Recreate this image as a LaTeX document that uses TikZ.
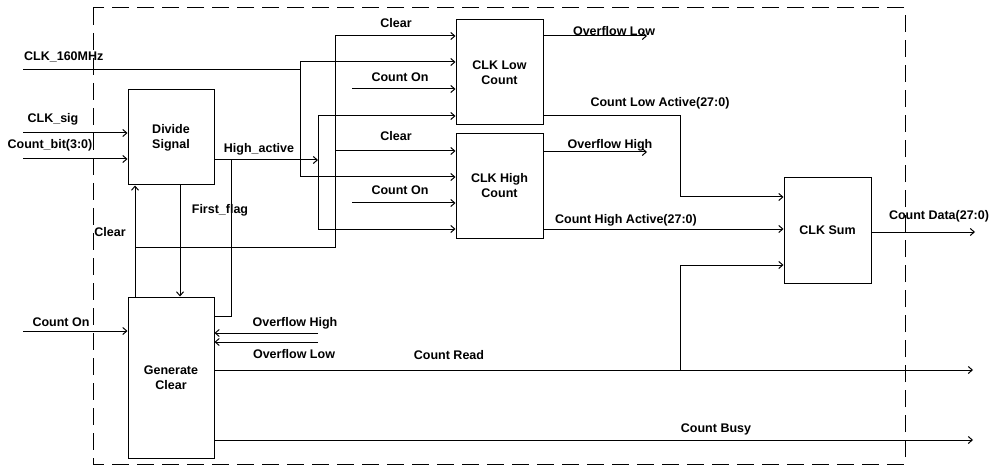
\documentclass[tikz,border=0pt]{standalone}
\usepackage{fontspec}
\setmainfont{Liberation Sans}
\usetikzlibrary{arrows.meta}
\begin{document}
\begin{tikzpicture}[x=1pt,y=-1pt,
  wire/.style={line width=1pt},
  arr/.style={wire,-{Straight Barb[length=4pt,width=7pt]}},
  blk/.style={draw,line width=1pt,rectangle,inner sep=0pt,align=center,font=\fontsize{12.5}{15}\selectfont\bfseries},
  lbl/.style={inner sep=0pt,font=\fontsize{12.5}{15}\selectfont\bfseries},
  frame/.style={line width=1pt,dash pattern=on 17pt off 8pt}]
\useasboundingbox (0,0) rectangle (994,468);
% frame
\draw[frame] (93,8) rectangle (905,464);
% blocks
\node[blk,minimum width=86pt,minimum height=95pt] (div) at (171,137.5) {Divide\\Signal};
\node[blk,minimum width=86pt,minimum height=161pt] (gen) at (171,377.5) {Generate\\Clear};
\node[blk,minimum width=87pt,minimum height=105pt] (low) at (499.5,72.5) {CLK Low\\Count};
\node[blk,minimum width=87pt,minimum height=104pt] (high) at (499.5,186) {CLK High\\Count};
\node[blk,minimum width=87pt,minimum height=105pt] (sum) at (827.5,230.5) {CLK Sum};
% coordinates
\coordinate (clkin) at (23,70);
\coordinate (clkA) at (300,62);
\coordinate (clkB) at (300,177);
\coordinate (hA) at (318,160);
\coordinate (hB) at (318,116);
\coordinate (hC) at (318,229);
\coordinate (cA) at (335,36);
\coordinate (cB) at (335,151);
\coordinate (cC) at (335,247);
\coordinate (clrx) at (135,247);
\coordinate (ff) at (180,210);
\coordinate (fb) at (231,316);
\coordinate (coA) at (352,89);
\coordinate (coB) at (352,203);
\coordinate (sigin) at (23,133);
\coordinate (bitin) at (23,159);
\coordinate (conin) at (23,331);
\coordinate (ovhin) at (318,333);
\coordinate (ovlin) at (318,342);
\coordinate (rdend) at (973,370);
\coordinate (rdbr) at (680,370);
\coordinate (rdup) at (680,265);
\coordinate (bsyend) at (973,440);
\coordinate (ovlo) at (647,36);
\coordinate (ovho) at (647,152);
\coordinate (claA) at (680,116);
\coordinate (claB) at (680,197);
\coordinate (chaA) at (543,229);
\coordinate (datend) at (975,232);
% CLK_160MHz
\draw[wire] (clkin) -- (clkin -| clkA);
\draw[wire] (clkA) -- (clkB);
\draw[arr] (clkA) -- (clkA -| low.west);
\draw[arr] (clkB) -- (clkB -| high.west);
% divide inputs
\draw[arr] (sigin) -- (sigin -| div.west);
\draw[arr] (bitin) -- (bitin -| div.west);
% High_active
\draw[arr] (hA -| div.east) -- (hA);
\draw[wire] (hB) -- (hC);
\draw[arr] (hB) -- (hB -| low.west);
\draw[arr] (hC) -- (hC -| high.west);
% Clear bus
\draw[wire] (cA) -- (cC) -- (clrx);
\draw[arr] (cA) -- (cA -| low.west);
\draw[arr] (cB) -- (cB -| high.west);
\draw[arr] (clrx |- gen.north) -- (clrx |- div.south);
% Count On
\draw[arr] (coA) -- (coA -| low.west);
\draw[arr] (coB) -- (coB -| high.west);
\draw[arr] (conin) -- (conin -| gen.west);
% First_flag
\draw[arr] (ff |- div.south) -- (ff |- gen.north);
\draw[wire] (fb |- hA) -- (fb) -- (fb -| gen.east);
% overflow into generate clear
\draw[arr] (ovhin) -- (ovhin -| gen.east);
\draw[arr] (ovlin) -- (ovlin -| gen.east);
% outputs of counters
\draw[arr] (ovlo -| low.east) -- (ovlo);
\draw[arr] (ovho -| high.east) -- (ovho);
\draw[wire] (claA -| low.east) -- (claA) -- (claB);
\draw[arr] (claB) -- (claB -| sum.west);
\draw[arr] (chaA) -- (chaA -| sum.west);
\draw[arr] (datend -| sum.east) -- (datend);
% count read / busy
\draw[arr] (rdend -| gen.east) -- (rdend);
\draw[wire] (rdbr) -- (rdup);
\draw[arr] (rdup) -- (rdup -| sum.west);
\draw[arr] (bsyend -| gen.east) -- (bsyend);
% labels
\node[lbl,anchor=west] (l1) at (24,57) {CLK\_160MHz};
\node[lbl] (l2) at (53,119) {CLK\_sig};
\node[lbl] (l3) at (50,145) {Count\_bit(3:0)};
\node[lbl] (l4) at (61,322) {Count On};
\node[lbl] (l5) at (110,232) {Clear};
\node[lbl] (l6) at (259,149) {High\_active};
\node[lbl] (l7) at (220,210) {First\_flag};
\node[lbl] (l8) at (396,23) {Clear};
\node[lbl] (l9) at (400,77) {Count On};
\node[lbl] (l10) at (396,136) {Clear};
\node[lbl] (l11) at (400,190) {Count On};
\node[lbl] (l12) at (614,31) {Overflow Low};
\node[lbl] (l13) at (610,145) {Overflow High};
\node[lbl] (l14) at (660,103) {Count Low Active(27:0)};
\node[lbl] (l15) at (626,220) {Count High Active(27:0)};
\node[lbl] (l16) at (939,216) {Count Data(27:0)};
\node[lbl] (l17) at (295,323) {Overflow High};
\node[lbl] (l18) at (294,354) {Overflow Low};
\node[lbl] (l19) at (449,355) {Count Read};
\node[lbl] (l20) at (716,429) {Count Busy};
\end{tikzpicture}
\end{document}
